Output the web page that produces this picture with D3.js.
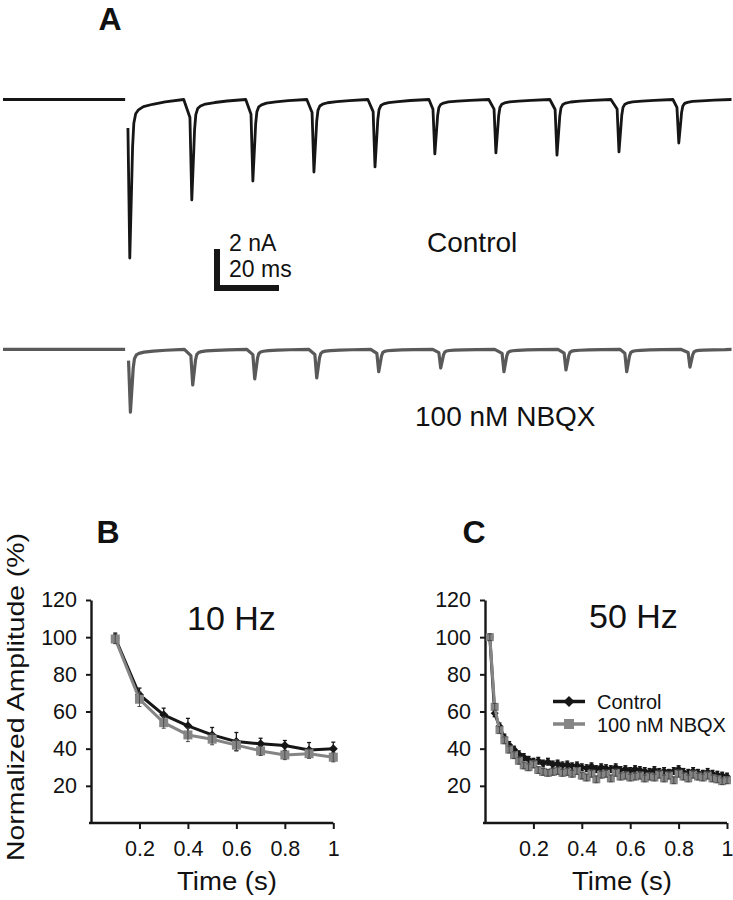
<!DOCTYPE html>
<html><head><meta charset="utf-8">
<script src="https://cdn.jsdelivr.net/npm/d3@7"></script>
<style>
body{margin:0;background:#fff}
svg{display:block}
text{font-family:"Liberation Sans",Arial,Helvetica,sans-serif;fill:#111}
</style>
</head><body>
<svg id="fig" width="733" height="900"></svg>
<script>
// ---------- Panel A: current traces (50 Hz train) ----------
const stimCtrlMs = [40.3, 60.3, 80.0, 99.7, 119.4, 138.7, 158.4, 178.1, 198.1, 217.4];
const ampCtrlNa  = [8.13, 5.15, 4.18, 3.72, 3.46, 2.79, 2.74, 2.85, 2.69, 2.23];
const stimNbqxMs = [40.5, 60.6, 80.6, 100.6, 120.6, 140.6, 161.0, 181.0, 200.6, 221.0];
const ampNbqxNa  = [3.22, 1.83, 1.52, 1.47, 1.15, 0.96, 1.15, 1.06, 1.15, 0.91];
// EPSC waveform: time after stimulus (ms), fraction of peak
const waveMs   = [0, 0.6, 1.25, 1.5, 1.9, 2.5, 3.4, 5, 8, 12, 18];
const waveFrac = [0.18, 1, 0.5, 0.3, 0.15, 0.09, 0.065, 0.045, 0.03, 0.015, 0];
const preBaselineEndMs = 39.4;
const traceEndMs = 235;

// ---------- Panel B: 10 Hz ----------
const time10 = [0.1, 0.2, 0.3, 0.4, 0.5, 0.6, 0.7, 0.8, 0.9, 1.0];
const ctrl10 = [99.5, 69.0, 58.2, 52.3, 47.4, 43.8, 42.6, 41.7, 39.3, 39.9];
const ctrl10Err = [2.7, 3.6, 3.6, 4.0, 4.0, 4.9, 3.0, 2.7, 4.0, 3.6];
const nbqx10 = [99.0, 66.6, 54.0, 47.4, 45.1, 41.9, 38.8, 36.6, 37.3, 35.4];
const nbqx10Err = [2.5, 3.9, 3.0, 3.6, 3.0, 3.0, 2.5, 2.5, 2.5, 2.5];

// ---------- Panel C: 50 Hz ----------
const time50 = [0.02,0.04,0.06,0.08,0.10,0.12,0.14,0.16,0.18,0.20,
                0.22,0.24,0.26,0.28,0.30,0.32,0.34,0.36,0.38,0.40,
                0.42,0.44,0.46,0.48,0.50,0.52,0.54,0.56,0.58,0.60,
                0.62,0.64,0.66,0.68,0.70,0.72,0.74,0.76,0.78,0.80,
                0.82,0.84,0.86,0.88,0.90,0.92,0.94,0.96,0.98,1.00];
const ctrl50 = [100,59,52,46,42,39.5,37,35.5,34,33,
                33.5,32,33,31.5,32,31,31.5,30.5,31,30,
                29.5,30.5,29,30,29.5,29,30,28.5,29,28,
                29,28.5,28,27.5,28.5,27.5,28,27,28,29,
                27.5,27,28,27,26.5,27.5,26.5,26,25.5,25];
const nbqx50 = [100,62.5,50,44.5,39.5,36.5,33.5,31,30,31.5,
                28.5,27.5,27,27.5,28,27,27.5,26.5,28,25.5,
                24.5,26.5,23.5,26,26.5,24,27,25,25.5,24.5,
                25,25.5,24,25,24.5,26,24,25.5,23,26.5,
                25,24,26,25,24.5,25.5,24,23.5,22.5,23];
const err50 = 1.8;

const yTicks = [20, 40, 60, 80, 100, 120];
const xTicks = [0.2, 0.4, 0.6, 0.8, 1];
const seriesNames = ["Control", "100 nM NBQX"];

// ---------- drawing ----------
const svg = d3.select("#fig");
const BLACK = "#161616", GRAY = "#858585", TRACE_GRAY = "#595959";
const pxPerNa = 19.5;

const xT = d3.scaleLinear().domain([0, traceEndMs]).range([3, 731.5]);
const yCtrl = d3.scaleLinear().domain([0, -8.5]).range([99.5, 99.5 + 8.5 * pxPerNa]);
const yNbqx = d3.scaleLinear().domain([0, -8.5]).range([349.3, 349.3 + 8.5 * pxPerNa]);

function buildTrace(stims, amps) {
  const pts = [[0, 0], [preBaselineEndMs, 0], [NaN, NaN]];
  stims.forEach((s, i) => {
    const next = i < stims.length - 1 ? stims[i + 1] : traceEndMs;
    waveMs.forEach((dt, j) => {
      const t = Math.min(s + dt, next - 0.05);
      pts.push([t, -amps[i] * waveFrac[j]]);
    });
    if (i === stims.length - 1) pts.push([traceEndMs, 0]);
  });
  return pts;
}
function drawTrace(pts, y, color, w) {
  const line = d3.line().defined(d => !isNaN(d[0])).x(d => xT(d[0])).y(d => y(d[1]));
  svg.append("path").attr("d", line(pts)).attr("fill", "none")
    .attr("stroke", color).attr("stroke-width", w)
    .attr("stroke-linejoin", "round").attr("stroke-linecap", "butt");
}
drawTrace(buildTrace(stimCtrlMs, ampCtrlNa), yCtrl, BLACK, 2.8);
drawTrace(buildTrace(stimNbqxMs, ampNbqxNa), yNbqx, TRACE_GRAY, 3.2);

// scale bar 2 nA / 20 ms
const sbX = 214, sbBottom = 291, sbThick = 6;
const sbW = xT(20) - xT(0);
const sbH = 2 * pxPerNa;
svg.append("rect").attr("x", sbX).attr("y", sbBottom - sbH - 3).attr("width", 6).attr("height", sbH + 3).attr("fill", BLACK);
svg.append("rect").attr("x", sbX).attr("y", sbBottom - sbThick).attr("width", sbW + 3).attr("height", sbThick).attr("fill", BLACK);
svg.append("text").attr("x", 229).attr("y", 251).attr("font-size", 23).text("2 nA");
svg.append("text").attr("x", 229).attr("y", 277).attr("font-size", 23).text("20 ms");
svg.append("text").attr("x", 427).attr("y", 252).attr("font-size", 28).text(seriesNames[0]);
svg.append("text").attr("x", 415).attr("y", 426).attr("font-size", 28).text(seriesNames[1]);

// panel letters
function letter(t, x, y) {
  svg.append("text").attr("x", x).attr("y", y).attr("text-anchor", "middle")
    .attr("font-size", 32).attr("font-weight", "bold").text(t);
}
letter("A", 110, 30);
letter("B", 108, 543);
letter("C", 474, 543);

// ---------- panels B & C ----------
function panel(x0, x1, title, titleX, titleY, time, ctrl, ctrlErr, nbqx, nbqxErr, mk, timeLabelX) {
  const x = d3.scaleLinear().domain([0, 1]).range([x0, x1]);
  const y = d3.scaleLinear().domain([0, 120]).range([823, 600]);
  const g = svg.append("g");

  const ax = g.append("g").attr("transform", `translate(${x0},0)`)
    .call(d3.axisLeft(y).tickValues(yTicks).tickSize(5).tickSizeOuter(0).tickPadding(9));
  const bx = g.append("g").attr("transform", "translate(0,823)")
    .call(d3.axisBottom(x).tickValues(xTicks).tickSize(6).tickSizeOuter(0).tickPadding(12)
      .tickFormat(d => d === 1 ? "1" : d3.format(".1f")(d)));
  [ax, bx].forEach(a => {
    a.selectAll("path,line").attr("stroke", BLACK).attr("stroke-width", 2);
    a.select(".domain").attr("stroke-width", 2.4);
    a.selectAll("text").attr("font-size", 21.5).attr("fill", "#111")
      .attr("font-family", '"Liberation Sans",Arial,sans-serif');
  });
  bx.select(".domain").attr("d", `M${x0 - 2},0H${x1}`);

  const line = d3.line().x((d, i) => x(time[i])).y(d => y(d));
  function errs(vals, err, color, w) {
    const e = Array.isArray(err) ? err : vals.map(() => err);
    const eg = g.append("g").attr("stroke", color).attr("stroke-width", w);
    vals.forEach((v, i) => {
      const cx = x(time[i]);
      eg.append("line").attr("x1", cx).attr("x2", cx).attr("y1", y(v - e[i])).attr("y2", y(v + e[i]));
      eg.append("line").attr("x1", cx - 2).attr("x2", cx + 2).attr("y1", y(v + e[i])).attr("y2", y(v + e[i]));
      eg.append("line").attr("x1", cx - 2).attr("x2", cx + 2).attr("y1", y(v - e[i])).attr("y2", y(v - e[i]));
    });
  }
  // control
  g.append("path").attr("d", line(ctrl)).attr("fill", "none").attr("stroke", BLACK)
    .attr("stroke-width", 3).attr("stroke-linejoin", "round");
  errs(ctrl, ctrlErr, BLACK, 1.3);
  ctrl.forEach((v, i) => {
    const s = mk.dia / Math.SQRT2;
    g.append("rect").attr("x", -s / 2).attr("y", -s / 2).attr("width", s).attr("height", s)
      .attr("fill", BLACK)
      .attr("transform", `translate(${x(time[i])},${y(v)}) rotate(45)`);
  });
  // NBQX
  g.append("path").attr("d", line(nbqx)).attr("fill", "none").attr("stroke", GRAY)
    .attr("stroke-width", 3).attr("stroke-linejoin", "round");
  nbqx.forEach((v, i) => {
    g.append("rect").attr("x", x(time[i]) - mk.sq / 2).attr("y", y(v) - mk.sq / 2)
      .attr("width", mk.sq).attr("height", mk.sq).attr("fill", GRAY);
  });
  errs(nbqx, nbqxErr, "#4a4a4a", 1);

  svg.append("text").attr("x", titleX).attr("y", titleY).attr("font-size", 34).text(title);
  svg.append("text").attr("x", timeLabelX).attr("y", 890).attr("text-anchor", "middle")
    .attr("font-size", 26).attr("textLength", 100).attr("lengthAdjust", "spacingAndGlyphs").text("Time (s)");
}
panel(91, 333.3, "10 Hz", 187, 630, time10, ctrl10, ctrl10Err, nbqx10, nbqx10Err, {dia: 9, sq: 9}, 227);
panel(485, 727, "50 Hz", 589, 628, time50, ctrl50, err50, nbqx50, err50, {dia: 8, sq: 8}, 622);

// y-axis title
svg.append("text").attr("transform", "translate(24,697) rotate(-90)").attr("text-anchor", "middle")
  .attr("font-size", 24).attr("textLength", 328).attr("lengthAdjust", "spacingAndGlyphs")
  .text("Normalized Amplitude (%)");

// legend (panel C)
const leg = [{name: seriesNames[0], y: 701.5, color: BLACK, shape: "dia"},
             {name: seriesNames[1], y: 724, color: GRAY, shape: "sq"}];
leg.forEach(d => {
  svg.append("line").attr("x1", 553).attr("x2", 585).attr("y1", d.y).attr("y2", d.y)
    .attr("stroke", d.color).attr("stroke-width", 3.5);
  if (d.shape === "dia") {
    const s = 11 / Math.SQRT2;
    svg.append("rect").attr("x", -s / 2).attr("y", -s / 2).attr("width", s).attr("height", s)
      .attr("fill", d.color).attr("transform", `translate(569,${d.y}) rotate(45)`);
  } else {
    svg.append("rect").attr("x", 569 - 5).attr("y", d.y - 5).attr("width", 10).attr("height", 10).attr("fill", d.color);
  }
  svg.append("text").attr("x", 597).attr("y", d.y + 7.5).attr("font-size", 20).text(d.name);
});
</script>
</body></html>
